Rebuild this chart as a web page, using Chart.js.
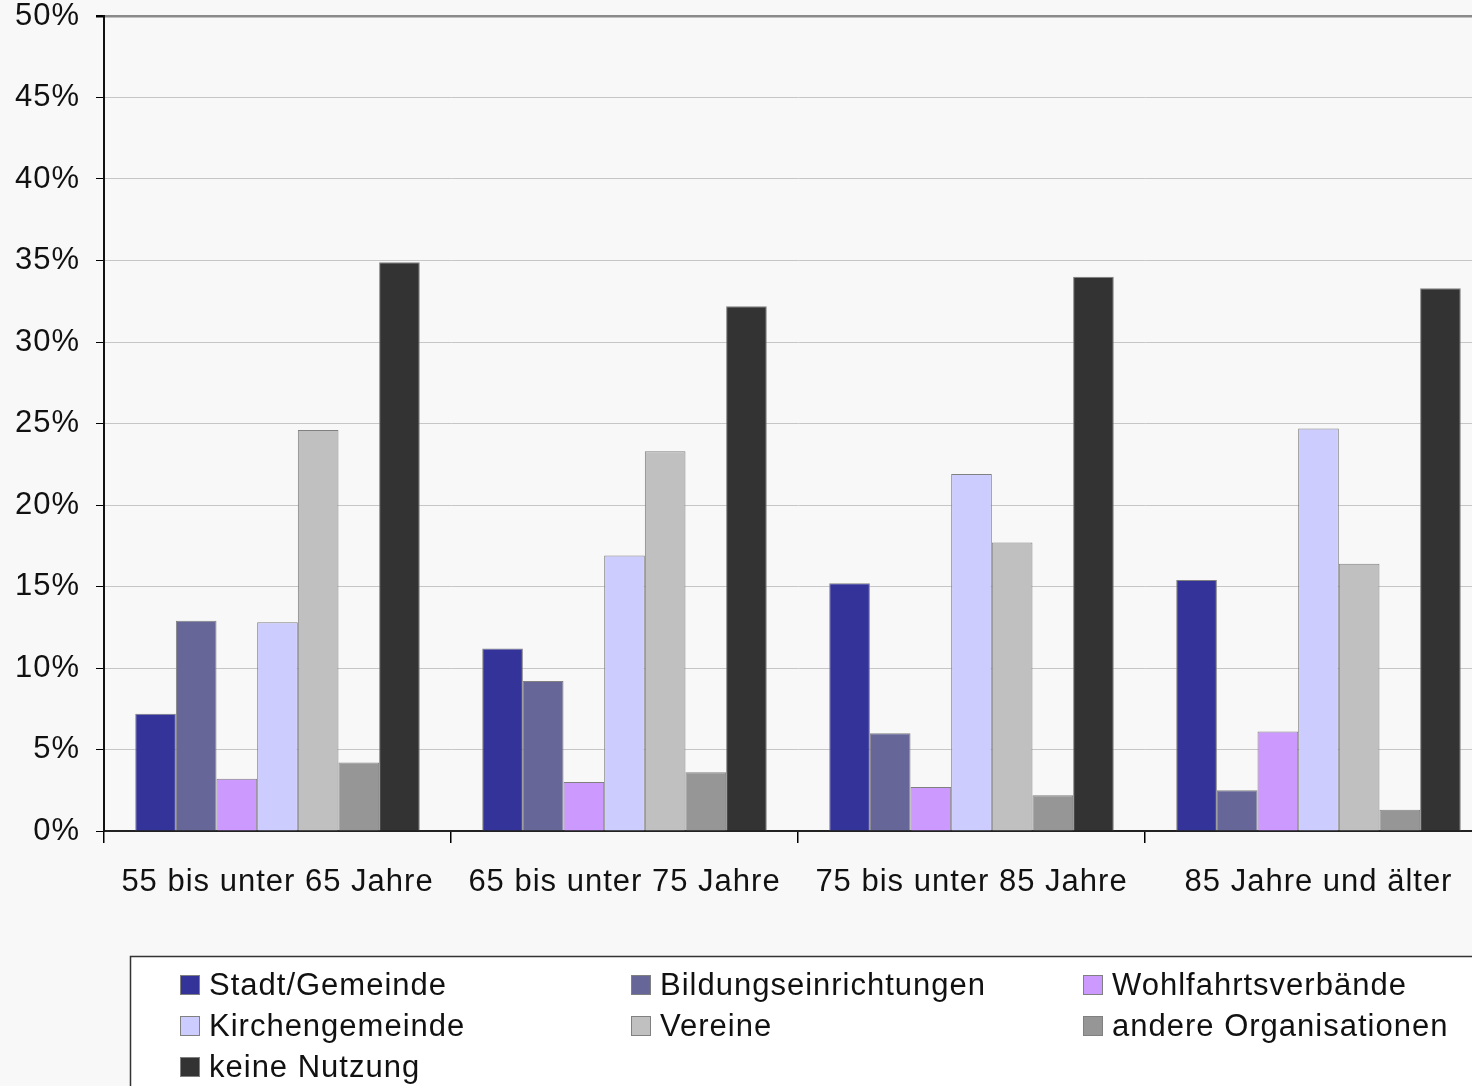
<!DOCTYPE html>
<html>
<head>
<meta charset="utf-8">
<script src="https://cdn.jsdelivr.net/npm/chart.js@4/dist/chart.umd.min.js"></script>
<style>
  html, body { margin: 0; padding: 0; background: #f8f8f8; overflow: hidden; }
  #wrap { width: 1500px; height: 1086px; }
</style>
</head>
<body>
<div id="wrap"><canvas id="myChart" width="1500" height="1086"></canvas></div>
<script>
let categories = ['55 bis unter 65 Jahre', '65 bis unter 75 Jahre', '75 bis unter 85 Jahre', '85 Jahre und älter'];

let series_names = ['Stadt/Gemeinde', 'Bildungseinrichtungen', 'Wohlfahrtsverbände',
  'Kirchengemeinde', 'Vereine', 'andere Organisationen', 'keine Nutzung'];

let stadt = [7.2, 11.2, 15.2, 15.4];
let bildung = [12.9, 9.2, 6.0, 2.5];
let wohlfahrt = [3.2, 3.0, 2.7, 6.1];
let kirche = [12.8, 16.9, 21.9, 24.7];
let vereine = [24.6, 23.3, 17.7, 16.4];
let andere = [4.2, 3.6, 2.2, 1.3];
let keine = [34.9, 32.2, 34.0, 33.3];

let y_ticks = [0, 5, 10, 15, 20, 25, 30, 35, 40, 45, 50];

let palette = ['#333399', '#666699', '#cc99ff', '#ccccff', '#c0c0c0', '#969696', '#333333'];

let font_family = '"Liberation Sans", Arial, Helvetica, sans-serif';

let values = [stadt, bildung, wohlfahrt, kirche, vereine, andere, keine];

// a bit wider letter spacing, the original font runs wider than Arial
let spacing = {
  id: 'spacing',
  beforeLayout(chart) { chart.ctx.letterSpacing = '1px'; },
  beforeDraw(chart) { chart.ctx.letterSpacing = '1px'; }
};

// legend box in the bottom area, three columns like the original
let boxLegend = {
  id: 'boxLegend',
  afterDraw(chart) {
    let ctx = chart.ctx;
    ctx.save();
    ctx.fillStyle = '#ffffff';
    ctx.fillRect(130, 956, chart.width, 200);
    ctx.strokeStyle = '#333333';
    ctx.lineWidth = 1.5;
    ctx.strokeRect(130.5, 956.5, chart.width, 200);

    let cols = [180, 631, 1083];
    let rows = [985, 1026, 1067];
    ctx.font = '31px ' + font_family;
    ctx.letterSpacing = '1px';
    ctx.textBaseline = 'middle';
    ctx.textAlign = 'left';
    chart.data.datasets.forEach((ds, i) => {
      let x = cols[i % 3];
      let y = rows[Math.floor(i / 3)];
      ctx.fillStyle = ds.backgroundColor;
      ctx.fillRect(x, y - 10, 19, 19);
      ctx.strokeStyle = '#808080';
      ctx.lineWidth = 1;
      ctx.strokeRect(x + 0.5, y - 9.5, 19, 19);
      ctx.fillStyle = '#111111';
      ctx.fillText(ds.label, x + 29, y + 1);
    });
    ctx.restore();
  }
};

let settings = {
  type: 'bar',
  data: {
    labels: categories,
    datasets: series_names.map((name, i) => ({
      label: name,
      data: values[i],
      backgroundColor: palette[i],
      borderColor: '#808080',
      borderWidth: 1,
      categoryPercentage: 0.82,
      barPercentage: 1.0
    }))
  },
  options: {
    responsive: false,
    animation: false,
    layout: {
      padding: { top: 16, right: 8, left: 0, bottom: 0 }
    },
    plugins: {
      legend: { display: false },
      tooltip: { enabled: false }
    },
    scales: {
      x: {
        grid: {
          offset: true,
          drawOnChartArea: false,
          tickLength: 12,
          tickColor: '#000000',
          lineWidth: 1.5
        },
        border: { color: '#222222', width: 2 },
        ticks: {
          color: '#111111',
          padding: 24,
          font: { family: font_family, size: 31, lineHeight: 1 }
        },
        afterFit(scale) {
          scale.height = 255;
          scale.paddingLeft = 0;
          scale.paddingRight = 0;
        }
      },
      y: {
        min: 0,
        max: 50,
        afterBuildTicks(scale) {
          scale.ticks = y_ticks.map(v => ({ value: v }));
        },
        grid: {
          color: c => c.tick && c.tick.value === 50 ? '#8a8a8a' : '#c6c6c6',
          lineWidth: c => c.tick && c.tick.value === 50 ? 2.5 : 1,
          tickLength: 8,
          tickColor: '#000000'
        },
        border: { color: '#111111', width: 2 },
        ticks: {
          color: '#111111',
          padding: 16,
          callback: v => v + '%',
          font: { family: font_family, size: 31, lineHeight: 1 }
        },
        afterFit(scale) {
          scale.width = 104;
          scale.paddingTop = 0;
          scale.paddingBottom = 0;
        }
      }
    }
  },
  plugins: [spacing, boxLegend]
};

window.onload = function () {
  window.chart = new Chart('myChart', settings);
};
</script>
</body>
</html>
